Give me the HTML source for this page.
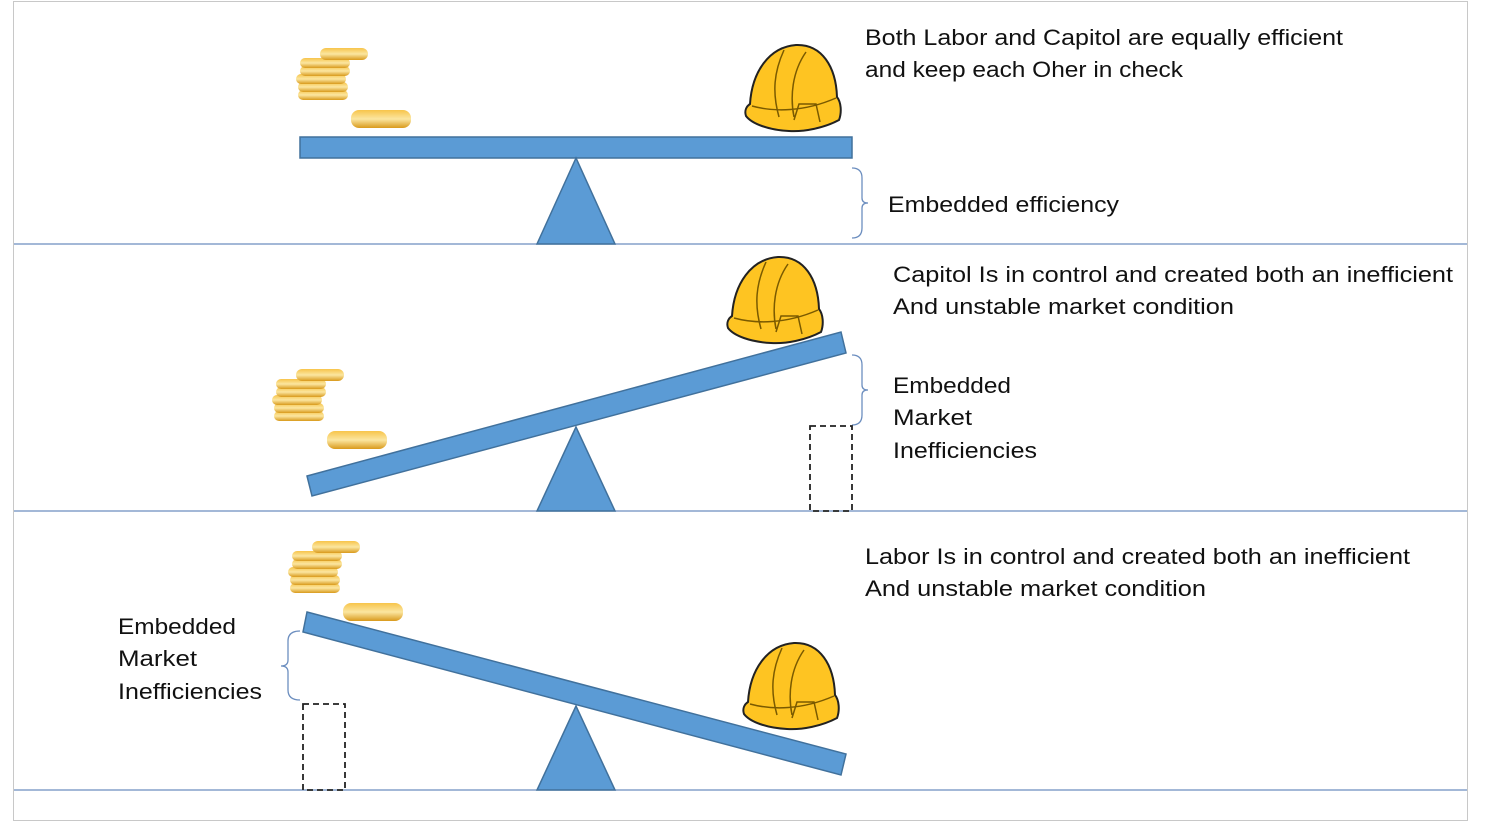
<!DOCTYPE html>
<html><head><style>
body{margin:0;background:#fff;width:1485px;height:839px;overflow:hidden}
svg{display:block}
text{font-family:"Liberation Sans",sans-serif;font-size:22.5px;fill:#111}
</style></head><body>
<svg width="1485" height="839" viewBox="0 0 1485 839">
<defs>
<linearGradient id="g" x1="0" y1="0" x2="0" y2="1">
<stop offset="0" stop-color="#f7c44a"/><stop offset="0.5" stop-color="#fbe6a0"/><stop offset="1" stop-color="#d99a1c"/></linearGradient>
<g id="coins">
<rect x="0" y="42" width="50" height="10" rx="5" fill="url(#g)"/>
<rect x="0" y="34" width="50" height="10" rx="5" fill="url(#g)"/>
<rect x="-2" y="26" width="50" height="10" rx="5" fill="url(#g)"/>
<rect x="2" y="18" width="50" height="10" rx="5" fill="url(#g)"/>
<rect x="2" y="10" width="50" height="10" rx="5" fill="url(#g)"/>
<rect x="22" y="0" width="48" height="12" rx="6" fill="url(#g)"/>
<rect x="53" y="62" width="60" height="18" rx="8" fill="url(#g)"/>
</g>
<g id="helmet">
<path d="M6,62 C8,30 25,5 52,3 C78,2 92,25 93,55 C97,60 98,70 95,78 C80,86 60,90 45,89 C25,88 8,82 2,74 C0,68 3,64 6,62Z" fill="#fec422" stroke="#222" stroke-width="2"/>
<path d="M40,8 C30,30 28,50 35,75 M62,10 C48,30 46,55 50,75 M50,78 L55,62 L72,62 L76,80 M8,64 C30,70 60,70 92,56" fill="none" stroke="#7a5a00" stroke-width="1.5"/>
</g>
</defs>
<rect x="13.5" y="1.5" width="1454" height="819" fill="none" stroke="#c8c8c8"/>
<g stroke="#6c8ebf" stroke-width="1.3">
<line x1="14" y1="244" x2="1467" y2="244"/>
<line x1="14" y1="511" x2="1467" y2="511"/>
<line x1="14" y1="790" x2="1467" y2="790"/>
</g>
<g fill="#5b9bd5" stroke="#41719c" stroke-width="1.5">
<rect x="300" y="137" width="552" height="21"/>
<polygon points="576,158 537,244 615,244"/>
<polygon points="307,476 841,332 846,353 312,496"/>
<polygon points="576,427 537,511 615,511"/>
<polygon points="307,612 846,754 841,775 303,632"/>
<polygon points="576,706 537,790 615,790"/>
</g>
<use href="#coins" x="298" y="48"/>
<use href="#coins" x="274" y="369"/>
<use href="#coins" x="290" y="541"/>
<use href="#helmet" x="744" y="42"/>
<use href="#helmet" x="726" y="254"/>
<use href="#helmet" x="742" y="640"/>
<g fill="none" stroke="#6c8ebf" stroke-width="1.3">
<path d="M852,168 Q862,168 862,178 L862,198 Q862,203 868,203 Q862,203 862,208 L862,228 Q862,238 852,238"/>
<path d="M852,355 Q862,355 862,365 L862,385 Q862,390 868,390 Q862,390 862,395 L862,415 Q862,425 852,425"/>
<path d="M300,631 Q288,631 288,641 L288,660 Q288,666 281,666 Q288,666 288,672 L288,690 Q288,700 300,700"/>
</g>
<g fill="none" stroke="#222" stroke-width="1.8" stroke-dasharray="6,4">
<rect x="810" y="426" width="42" height="85"/>
<rect x="303" y="704" width="42" height="86"/>
</g>
<text x="865" y="45" textLength="478" lengthAdjust="spacingAndGlyphs">Both Labor and Capitol are equally efficient</text>
<text x="865" y="77" textLength="318" lengthAdjust="spacingAndGlyphs">and keep each Oher in check</text>
<text x="888" y="212" textLength="231" lengthAdjust="spacingAndGlyphs">Embedded efficiency</text>
<text x="893" y="282" textLength="560" lengthAdjust="spacingAndGlyphs">Capitol Is in control and created both an inefficient</text>
<text x="893" y="314" textLength="341" lengthAdjust="spacingAndGlyphs">And unstable market condition</text>
<text x="893" y="393" textLength="118" lengthAdjust="spacingAndGlyphs">Embedded</text>
<text x="893" y="425" textLength="79" lengthAdjust="spacingAndGlyphs">Market</text>
<text x="893" y="458" textLength="144" lengthAdjust="spacingAndGlyphs">Inefficiencies</text>
<text x="865" y="564" textLength="545" lengthAdjust="spacingAndGlyphs">Labor Is in control and created both an inefficient</text>
<text x="865" y="596" textLength="341" lengthAdjust="spacingAndGlyphs">And unstable market condition</text>
<text x="118" y="634" textLength="118" lengthAdjust="spacingAndGlyphs">Embedded</text>
<text x="118" y="666" textLength="79" lengthAdjust="spacingAndGlyphs">Market</text>
<text x="118" y="699" textLength="144" lengthAdjust="spacingAndGlyphs">Inefficiencies</text>
</svg>
</body></html>
